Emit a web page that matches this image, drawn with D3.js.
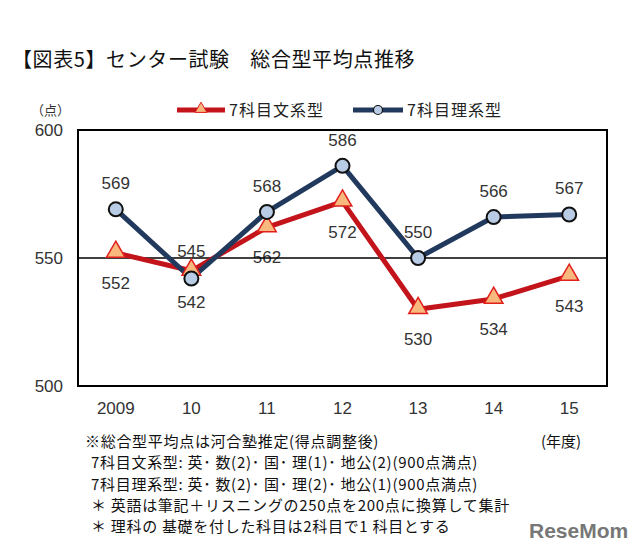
<!DOCTYPE html>
<html><head><meta charset="utf-8">
<script src="https://cdn.jsdelivr.net/npm/d3@7"></script>
<style>body{margin:0;background:#fff}svg{display:block}</style>
</head><body>
<script>
const years = ["2009","10","11","12","13","14","15"];
const bunkei = [552,545,562,572,530,534,543];
const rikei = [569,542,568,586,550,566,567];
const bunkeiLabelPos = ["below","above","below","below","below","below","below"];
const rikeiLabelPos = ["above","below","above","above","above","above","above"];
const yTicks = [500,550,600];
const seriesNames = ["7科目文系型","7科目理系型"];
const notes = ["※総合型平均点は河合塾推定(得点調整後)",
 "7科目文系型: 英･ 数(2)･ 国･ 理(1)･ 地公(2)(900点満点)",
 "7科目理系型: 英･ 数(2)･ 国･ 理(2)･ 地公(1)(900点満点)",
 "＊ 英語は筆記＋リスニングの250点を200点に換算して集計",
 "＊ 理科の 基礎を付した科目は2科目で1 科目とする"];

const W=640,H=557;
const svg=d3.select("body").append("svg").attr("width",W).attr("height",H);
const font="'Liberation Sans', Arial, 'Noto Sans CJK JP', sans-serif";
const jfont="'Noto Sans CJK JP', sans-serif";
const m={l:78,r:607,t:130,b:386};
const x=d3.scaleBand().domain(years).range([m.l,m.r]);
const y=d3.scaleLinear().domain([500,600]).range([m.b,m.t]);
const red="#C3141B", blue="#20395C";
const cx=(d,i)=>x(years[i])+x.bandwidth()/2;

svg.append("text").attr("x",12).attr("y",67).attr("font-family",jfont).attr("font-size",20).attr("letter-spacing",0.6).attr("fill","#111")
 .text("【図表5】センター試験　総合型平均点推移");

// data labels (drawn under lines)
function labels(data,pos,upOff,downOff){
 svg.append("g").selectAll("text").data(data).enter().append("text")
  .attr("x",cx).attr("y",(d,i)=>pos[i]==="above"?y(d)-upOff:y(d)+downOff)
  .attr("text-anchor","middle").attr("font-family",font).attr("font-size",17).attr("fill","#333").text(d=>d);
}
labels(bunkei,bunkeiLabelPos,14,36);
labels(rikei,rikeiLabelPos,20,30);

// box
svg.append("rect").attr("x",m.l).attr("y",m.t).attr("width",m.r-m.l).attr("height",m.b-m.t)
 .attr("fill","none").attr("stroke","#000").attr("stroke-width",2);
svg.append("line").attr("x1",m.l).attr("x2",m.r).attr("y1",y(550)).attr("y2",y(550)).attr("stroke","#000").attr("stroke-width",1.5);

// axes labels
const yAxis=d3.axisLeft(y).tickValues(yTicks).tickSize(0).tickPadding(15);
const ga=svg.append("g").attr("transform",`translate(${m.l},0)`).call(yAxis);
ga.select(".domain").remove();
ga.selectAll("text").attr("font-family",font).attr("font-size",17).attr("fill","#333");
const xAxis=d3.axisBottom(x).tickSize(0).tickPadding(16);
const gx=svg.append("g").attr("transform",`translate(0,${m.b})`).call(xAxis);
gx.select(".domain").remove();
gx.selectAll("text").attr("font-family",font).attr("font-size",17).attr("fill","#333");

svg.append("text").attr("x",31).attr("y",115).attr("font-family",jfont).attr("font-size",13).attr("fill","#333").text("（点）");

const line=d3.line().x(cx).y(d=>y(d));
svg.append("path").datum(bunkei).attr("d",line).attr("fill","none").attr("stroke",red).attr("stroke-width",5).attr("stroke-linejoin","round");
svg.append("path").datum(rikei).attr("d",line).attr("fill","none").attr("stroke",blue).attr("stroke-width",5).attr("stroke-linejoin","round");

const tri=d3.symbol().type(d3.symbolTriangle).size(150);
svg.selectAll(".tri").data(bunkei).enter().append("path").attr("d",tri)
 .attr("transform",(d,i)=>`translate(${cx(d,i)},${y(d)-1})`).attr("fill","#F9B97E").attr("stroke","#E0201C").attr("stroke-width",1.5);
svg.selectAll(".cir").data(rikei).enter().append("circle").attr("cx",cx).attr("cy",d=>y(d)).attr("r",7)
 .attr("fill","#B9CCE6").attr("stroke","#111").attr("stroke-width",2);

// legend
const lg=[{x1:177,x2:225,c:red,t:seriesNames[0],k:"tri"},{x1:353,x2:403,c:blue,t:seriesNames[1],k:"cir"}];
lg.forEach(d=>{
 svg.append("line").attr("x1",d.x1).attr("x2",d.x2).attr("y1",110).attr("y2",110).attr("stroke",d.c).attr("stroke-width",5);
 const mx=(d.x1+d.x2)/2;
 if(d.k==="tri") svg.append("path").attr("d",d3.symbol().type(d3.symbolTriangle).size(60)).attr("transform",`translate(${mx},109)`).attr("fill","#F9B97E").attr("stroke","#E0201C");
 else svg.append("circle").attr("cx",mx).attr("cy",110).attr("r",4.5).attr("fill","#B9CCE6").attr("stroke","#111").attr("stroke-width",1.2);
 svg.append("text").attr("x",d.x2+4).attr("y",116).attr("font-family",jfont).attr("font-size",16).attr("letter-spacing",1).attr("fill","#222").text(d.t);
});

// notes
svg.append("g").selectAll("text").data(notes).enter().append("text")
 .attr("x",(d,i)=>i===0?85:91).attr("y",(d,i)=>447+i*21.3).attr("font-family",jfont).attr("font-size",15).attr("letter-spacing",0.7).attr("fill","#111").text(d=>d);
svg.append("text").attr("x",541).attr("y",447).attr("font-family",jfont).attr("font-size",15).attr("fill","#111").text("(年度)");
svg.append("text").attr("x",529).attr("y",538).attr("font-family","'Liberation Sans', Arial, sans-serif").attr("font-weight","bold").attr("font-size",21).attr("fill","#777").text("ReseMom");
</script>
</body></html>
